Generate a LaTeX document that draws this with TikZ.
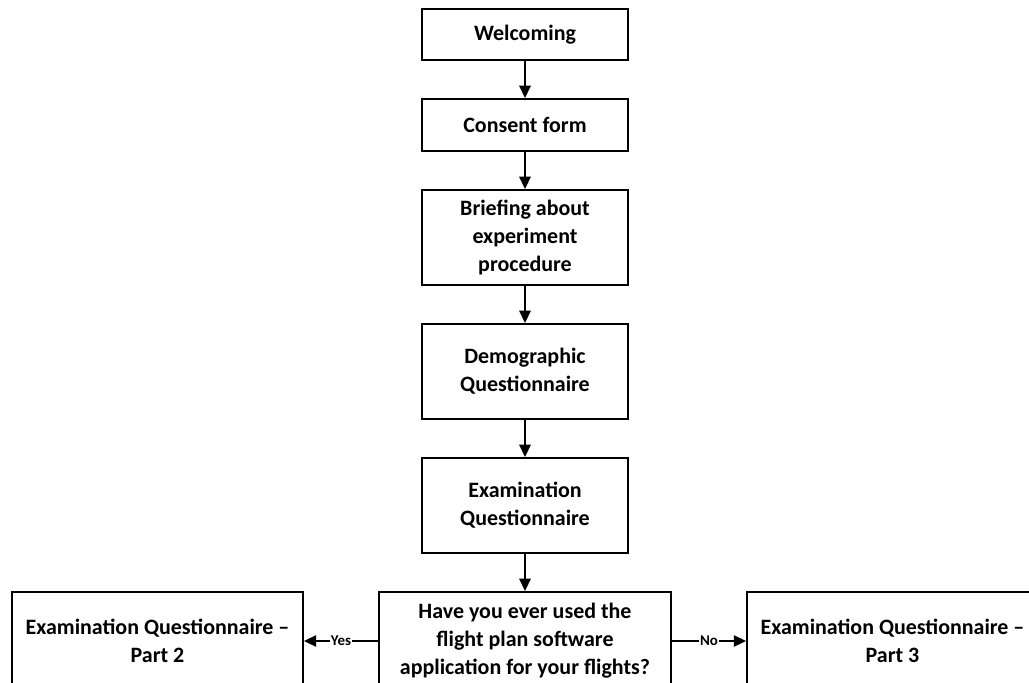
\documentclass[tikz,border=0pt]{standalone}
\usepackage{fontspec}
\setmainfont{Carlito}
\usetikzlibrary{arrows.meta}

\tikzset{
  stage/.style={draw, line width=1.1pt, align=center, inner sep=2pt,
    font=\fontsize{12.5}{15.9}\selectfont\bfseries},
  flow/.style={-{Triangle[length=7pt,width=6.5pt]}, line width=0.8pt},
  answer/.style={fill=white, inner sep=0.5pt, font=\fontsize{8.5}{10}\selectfont\bfseries}
}

\begin{document}
\begin{tikzpicture}[x=0.02cm, y=-0.02cm]
\useasboundingbox (0,0) rectangle (1029,683);
\clip (0,0) rectangle (1029,683);

\node[stage, minimum width=4.12cm, minimum height=1.02cm] (welcome) at (525, 34.5) {Welcoming};
\node[stage, minimum width=4.12cm, minimum height=1.04cm] (consent) at (525, 125) {Consent form};
\node[stage, minimum width=4.12cm, minimum height=1.9cm] (brief) at (525, 237.5) {Briefing about\\experiment\\procedure};
\node[stage, minimum width=4.12cm, minimum height=1.9cm] (demo) at (525, 371.5) {Demographic\\Questionnaire};
\node[stage, minimum width=4.12cm, minimum height=1.9cm] (exam) at (525, 505.5) {Examination\\Questionnaire};
\node[stage, minimum width=5.84cm, minimum height=1.96cm] (used) at (525, 641) {Have you ever used the\\flight plan software\\application for your flights?};
\node[stage, minimum width=5.82cm, minimum height=1.96cm] (part2) at (157.5, 641) {Examination Questionnaire --\\Part 2};
\node[stage, minimum width=5.82cm, minimum height=1.96cm] (part3) at (892.5, 641) {Examination Questionnaire --\\Part 3};

\draw[flow] (welcome) -- (consent);
\draw[flow] (consent) -- (brief);
\draw[flow] (brief) -- (demo);
\draw[flow] (demo) -- (exam);
\draw[flow] (exam) -- (used);

\draw[flow] (used) -- node[answer] {Yes} (part2);
\draw[flow] (used) -- node[answer] {No} (part3);
\end{tikzpicture}
\end{document}
